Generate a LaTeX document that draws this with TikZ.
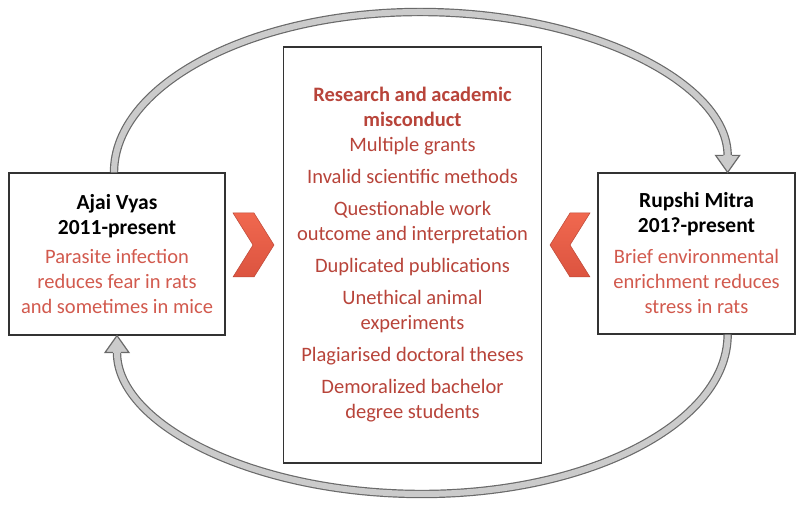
\documentclass[tikz,border=0pt]{standalone}
\usepackage{fontspec}
\setmainfont{Carlito}
\usetikzlibrary{calc}
\definecolor{redtxt}{HTML}{B8443A}
\definecolor{desctxt}{HTML}{D25A4E}
\definecolor{chevtop}{HTML}{F0684F}
\definecolor{chevbot}{HTML}{DC5440}
\definecolor{arrfill}{HTML}{CBCBCB}
\definecolor{arredge}{HTML}{6A6A6A}
\begin{document}
\begin{tikzpicture}[x=1pt,y=1pt,
  box/.style={draw=black!80, line width=1.2pt, fill=white, inner sep=0pt, align=center,
    font=\fontsize{20.5}{25}\selectfont},
  shaft/.style={draw=arredge, line width=1.2pt, double=arrfill, double distance=6pt},
  headfill/.style={fill=arrfill},
  headedge/.style={draw=arredge, line width=1.2pt, line join=miter},
  chevron/.style={top color=chevtop, bottom color=chevbot, draw=chevbot!85!black, line width=0.5pt}
]
\useasboundingbox (0,0) rectangle (800,505);

% boxes
\node[box, minimum width=258pt, minimum height=416pt, text=redtxt] (mid) at (412.5,250)
 {\textbf{Research and academic}\\ \textbf{misconduct}\\
  Multiple grants\\[7pt]
  Invalid scientific methods\\[7pt]
  Questionable work\\ outcome and interpretation\\[7pt]
  Duplicated publications\\[7pt]
  Unethical animal\\ experiments\\[7pt]
  Plagiarised doctoral theses\\[7pt]
  Demoralized bachelor\\ degree students};

\node[box, minimum width=216pt, minimum height=162pt] (left) at (117,251)
 {{\fontsize{21.5}{26}\selectfont\bfseries Ajai Vyas}\\
  {\fontsize{21.5}{26}\selectfont\bfseries 2011-present}\\[4pt]
  \textcolor{desctxt}{Parasite infection}\\
  \textcolor{desctxt}{reduces fear in rats}\\
  \textcolor{desctxt}{and sometimes in mice}};

\node[box, minimum width=197pt, minimum height=161pt] (right) at (696.5,251.5)
 {{\fontsize{21.5}{26}\selectfont\bfseries Rupshi Mitra}\\
  {\fontsize{21.5}{26}\selectfont\bfseries 201?-present}\\[6pt]
  \textcolor{desctxt}{Brief environmental}\\
  \textcolor{desctxt}{enrichment reduces}\\
  \textcolor{desctxt}{stress in rats}};

% chevrons
\path[chevron] (233,292) -- (254,292) -- (274,260) -- (254,228) -- (233,228) -- (253,260) -- cycle;
\path[chevron] (590,292) -- (570,292) -- (550,260) -- (570,228) -- (590,228) -- (570,260) -- cycle;

% top arrow: left -> right
\coordinate (startA) at ($(left.north)+(-3,0)$);
\coordinate (tipA) at (right.69.3);
\coordinate (baseA) at ($(tipA)+(0,17)$);
\draw[shaft] (startA) .. controls ($(startA)+(0,88)$) and (252,493) .. (420,493)
  .. controls (590,493) and ($(baseA)+(0,72)$) .. (baseA);
\fill[headfill] ($(baseA)+(-12,0)$) -- (tipA) -- ($(baseA)+(12,0)$) -- cycle;
\draw[headedge] ($(baseA)+(-4.2,0)$) -- ($(baseA)+(-12,0)$) -- (tipA) -- ($(baseA)+(12,0)$) -- ($(baseA)+(4.2,0)$);

% bottom arrow: right -> left
\coordinate (tipB) at (left.south);
\coordinate (baseB) at ($(tipB)+(0,-17)$);
\draw[shaft] (right.-69.3) .. controls ($(right.-69.3)+(0,-88)$) and (590,11) .. (422,11)
  .. controls (254,11) and ($(baseB)+(0,-72)$) .. (baseB);
\fill[headfill] ($(baseB)+(-12,0)$) -- (tipB) -- ($(baseB)+(12,0)$) -- cycle;
\draw[headedge] ($(baseB)+(-4.2,0)$) -- ($(baseB)+(-12,0)$) -- (tipB) -- ($(baseB)+(12,0)$) -- ($(baseB)+(4.2,0)$);
\end{tikzpicture}
\end{document}
